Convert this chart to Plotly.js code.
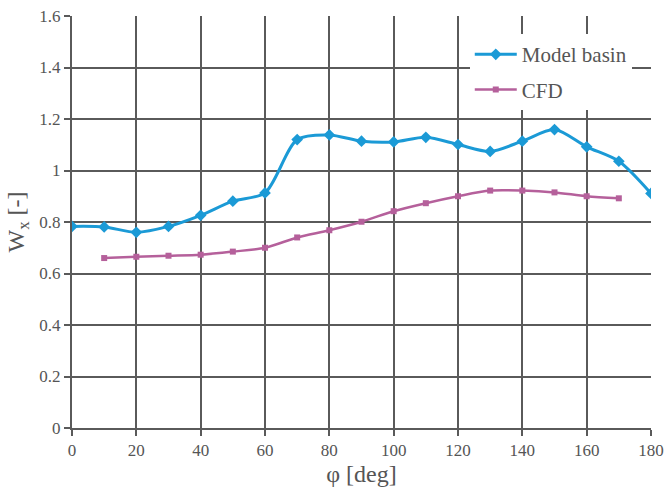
<!DOCTYPE html>
<html>
<head>
<meta charset="utf-8">
<script src="https://cdn.plot.ly/plotly-3.0.1.min.js"></script>
<style>
  html, body { margin: 0; padding: 0; background: #ffffff; }
  #chart { width: 667px; height: 495px; }
</style>
</head>
<body>
<div id="chart"></div>
<script>
// Wake fraction Wx versus angle φ
const phiBasin = [0, 10, 20, 30, 40, 50, 60, 70, 80, 90, 100, 110, 120, 130, 140, 150, 160, 170, 180];
const wxBasin  = [0.783, 0.781, 0.760, 0.783, 0.826, 0.881, 0.913, 1.120, 1.138, 1.114, 1.111, 1.129, 1.101, 1.074, 1.114, 1.159, 1.092, 1.036, 0.911];

const phiCfd = [10, 20, 30, 40, 50, 60, 70, 80, 90, 100, 110, 120, 130, 140, 150, 160, 170];
const wxCfd  = [0.660, 0.665, 0.669, 0.673, 0.685, 0.700, 0.740, 0.768, 0.801, 0.842, 0.873, 0.900, 0.922, 0.922, 0.915, 0.900, 0.892];

const xTicks = [0, 20, 40, 60, 80, 100, 120, 140, 160, 180];
const yTicks = [0, 0.2, 0.4, 0.6, 0.8, 1, 1.2, 1.4, 1.6];

const serif = '"Liberation Serif", "Times New Roman", serif';
const grey = '#5a5a5a';
const textGrey = '#555555';

const traces = [
  {
    x: phiBasin, y: wxBasin, name: 'Model basin', legendgroup: 'a',
    mode: 'lines+markers',
    line: { color: '#1b9ad6', width: 3, shape: 'spline', smoothing: 0.8 },
    marker: { symbol: 'diamond', size: 9, color: '#1b9ad6' }
  },
  {
    x: phiCfd, y: wxCfd, name: 'CFD', legendgroup: 'b',
    mode: 'lines+markers',
    line: { color: '#b5609b', width: 2.5, shape: 'spline', smoothing: 0.8 },
    marker: { symbol: 'square', size: 6, color: '#b5609b' }
  }
];

const layout = {
  width: 667, height: 495,
  margin: { l: 72, r: 16, t: 16, b: 67 },
  paper_bgcolor: '#ffffff',
  plot_bgcolor: '#ffffff',
  font: { family: serif, color: textGrey, size: 17 },
  showlegend: true,
  legend: {
    x: 0.687, y: 0.956, xanchor: 'left', yanchor: 'top',
    bgcolor: '#ffffff', borderwidth: 0,
    font: { family: serif, size: 21, color: textGrey },
    traceorder: 'grouped', tracegroupgap: 5,
    itemwidth: 42
  },
  xaxis: {
    range: [0, 180],
    tickvals: xTicks, ticktext: xTicks.map(String),
    showgrid: true, gridcolor: grey, gridwidth: 2,
    showline: true, linecolor: grey, linewidth: 2, mirror: false,
    ticks: 'outside', ticklen: 6, tickcolor: grey, tickwidth: 2,
    zeroline: false,
    tickfont: { family: serif, size: 17, color: textGrey },
    title: { text: 'φ [deg]', font: { family: serif, size: 24, color: textGrey }, standoff: 6 }
  },
  yaxis: {
    range: [0, 1.6],
    tickvals: yTicks, ticktext: yTicks.map(String),
    showgrid: true, gridcolor: grey, gridwidth: 2,
    showline: true, linecolor: grey, linewidth: 2,
    ticks: 'outside', ticklen: 6, tickcolor: grey, tickwidth: 2,
    zeroline: false,
    tickfont: { family: serif, size: 17, color: textGrey },
    title: { text: 'W<sub>x</sub> [-]', font: { family: serif, size: 24, color: textGrey }, standoff: 8 }
  }
};

Plotly.newPlot('chart', traces, layout, { displayModeBar: false, staticPlot: true });
</script>
</body>
</html>
